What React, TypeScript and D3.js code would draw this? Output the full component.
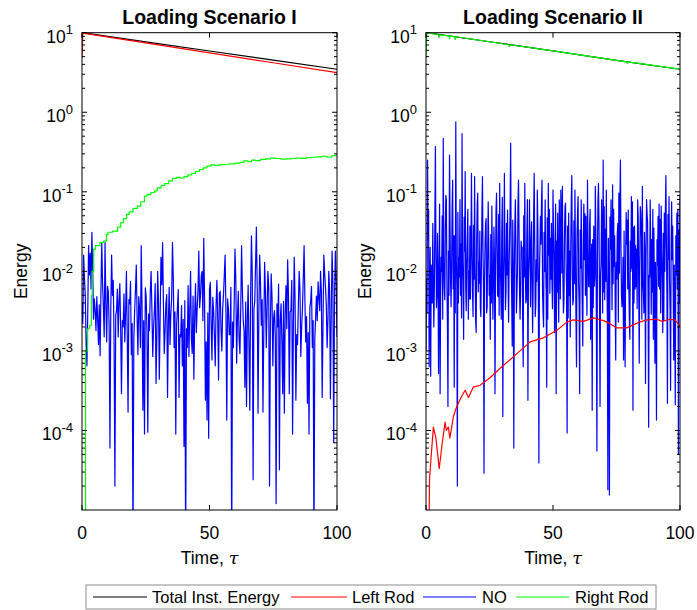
import React from 'react';
import * as d3 from 'd3';

const WIDTH = 697;
const HEIGHT = 610;
const Y_DOMAIN: [number, number] = [1e-5, 10];
const FONT = '"Liberation Sans", Arial, Helvetica, sans-serif';

// ---------- Loading Scenario I ----------
const s1TotalT = [0, 25, 50, 75, 100];
const s1TotalV = [10, 7.68, 5.89, 4.52, 3.47];

const s1LeftT = [0, 0.3, 25, 50, 75, 100];
const s1LeftV = [4.8, 9.9, 7.43, 5.57, 4.19, 3.14];

const s1RightT = [0, 1.3, 1.4, 2.2, 3.0, 3.7, 4.0, 4.6, 5.3, 7.0, 8.5, 9.6, 10.2, 12, 14, 15.2, 16.2, 17.5, 18.5, 20, 21.8, 23, 24.5, 25.5, 27, 28.5, 29.5, 31, 32.5, 34, 35.5, 37, 38.5, 40, 41.5, 43, 44.5, 46, 47.5, 49, 50.5, 52, 54, 56, 58, 60, 62, 63.5, 65, 66.5, 68, 70, 72, 74, 76, 78, 80, 82, 84, 86, 88, 90, 92, 94, 96, 98, 100];
const s1RightV = [5e-7, 5e-7, 1.0e-3, 1.9e-3, 2.1e-3, 5e-3, 1.0e-2, 1.9e-2, 2.1e-2, 2.3e-2, 2.4e-2, 2.9e-2, 3.1e-2, 3.2e-2, 3.6e-2, 4.1e-2, 4.6e-2, 5.2e-2, 5.6e-2, 6.2e-2, 6.6e-2, 7.5e-2, 8.8e-2, 9.2e-2, 9.8e-2, 0.103, 0.112, 0.12, 0.127, 0.137, 0.147, 0.152, 0.149, 0.155, 0.163, 0.17, 0.18, 0.19, 0.2, 0.21, 0.218, 0.215, 0.22, 0.222, 0.225, 0.23, 0.235, 0.245, 0.24, 0.25, 0.247, 0.255, 0.26, 0.265, 0.262, 0.258, 0.26, 0.262, 0.265, 0.263, 0.27, 0.272, 0.275, 0.28, 0.272, 0.285, 0.29];

// NO energy, sampled on a uniform time grid over [0, 100]
const s1NO = [
  4e-3, 2.2e-3, 1.6e-2, 8e-3, 5e-3, 1.2e-3, 6.5e-4, 3e-3, 2.1e-2, 9e-3,
  1.7e-2, 6e-3, 3.1e-2, 1.1e-2, 2.5e-3, 4.5e-3, 3.2e-3, 1.8e-3, 4.8e-3, 2.6e-3,
  1.2e-3, 3.8e-3, 8.7e-4, 5.5e-3, 2.3e-2, 7e-3, 3.6e-3, 1.5e-3, 2.3e-2, 4e-3,
  1.3e-3, 6.5e-3, 5.6e-3, 2e-3, 6e-5, 3.4e-3, 1.6e-2, 5e-3, 7.7e-3, 1.3e-3,
  2e-5, 2.8e-3, 3.2e-3, 6e-3, 1.5e-3, 4.2e-3, 7e-3, 1.9e-3, 2.9e-4, 2.4e-3,
  2.0e-3, 5.2e-3, 1.3e-3, 3e-3, 1.0e-2, 1.6e-3, 1.7e-4, 4.4e-3, 3.9e-3, 7.5e-3,
  9e-4, 2.2e-3, 3e-6, 1.4e-3, 3.2e-3, 5.8e-3, 1.2e-2, 2.6e-3, 9e-4, 4.8e-3,
  3.4e-3, 1.1e-3, 2.1e-2, 3.6e-3, 1.8e-4, 2.4e-3, 9e-5, 6.2e-3, 4.8e-3, 1.7e-3,
  9.5e-5, 2.9e-3, 1.8e-3, 5.4e-3, 1.0e-2, 3.3e-3, 8.5e-4, 2e-3, 3.2e-3, 7e-3,
  3.9e-4, 1.5e-3, 1.0e-2, 4.1e-3, 4.4e-4, 2.7e-3, 1.5e-2, 6.8e-3, 2.3e-2, 3.9e-3,
  9.3e-4, 1.8e-3, 3.9e-3, 5.1e-3, 2.6e-4, 2.3e-3, 6.3e-3, 1.2e-3, 2.9e-3, 4.6e-3,
  2.3e-2, 8.2e-3, 1.1e-3, 3.1e-3, 9e-5, 2.1e-3, 3.4e-3, 5.9e-3, 2.6e-4, 1.6e-3,
  1.5e-3, 3.7e-3, 6.5e-4, 2.5e-3, 6.3e-5, 4.3e-3, 3e-6, 1.9e-3, 1.1e-3, 6.6e-3,
  8.5e-4, 3.2e-3, 1.0e-2, 1.4e-3, 9.3e-4, 4.9e-3, 4.4e-4, 2.8e-3, 7e-3, 1.7e-3,
  3.4e-3, 5.6e-3, 1.8e-2, 3.5e-3, 4.8e-3, 8.8e-3, 1.0e-2, 2.4e-3, 2.6e-2, 4.4e-3,
  2.4e-4, 1.3e-3, 1.35e-4, 3e-3, 8e-5, 6e-3, 7.3e-3, 2.2e-3, 7.7e-4, 4.7e-3,
  3.2e-3, 1.5e-3, 6.5e-4, 3.8e-3, 7.7e-3, 2.6e-3, 4.3e-4, 5.3e-3, 5.6e-3, 1.9e-3,
  1.0e-3, 3.4e-3, 5e-3, 9e-3, 1.6e-2, 2.9e-3, 1.35e-4, 4.5e-3, 3.4e-3, 1.6e-3,
  1.6e-3, 6.3e-3, 3e-6, 2.3e-3, 1.1e-3, 4e-3, 1.9e-2, 7.8e-3, 7e-4, 2.7e-3,
  5.6e-3, 1.4e-3, 9.3e-4, 3.6e-3, 2.1e-2, 5.7e-3, 2.4e-3, 1.8e-3, 3.5e-4, 4.1e-3,
  2e-4, 2.5e-3, 6.7e-3, 1.1e-3, 1.8e-4, 5e-3, 2.8e-2, 8.5e-3, 2.4e-5, 3.3e-3,
  4.2e-3, 1.2e-2, 3.6e-2, 6.1e-3, 1.65e-4, 2.9e-3, 1.6e-2, 7.2e-3, 2.1e-3, 4.4e-3,
  1.7e-4, 1.8e-3, 1.3e-2, 5.5e-3, 1.1e-3, 3.4e-3, 1.0e-2, 6.4e-3, 2e-5, 2.1e-3,
  9.3e-3, 4.8e-3, 6.5e-4, 2.6e-3, 3.2e-3, 1.5e-3, 1.2e-5, 3.9e-3, 2e-3, 6.9e-3,
  3.2e-5, 2.4e-3, 3.9e-3, 1.3e-3, 2.9e-4, 4.2e-3, 1.65e-4, 2.8e-3, 6.6e-3, 1.9e-3,
  1.4e-2, 5.1e-3, 2.9e-4, 3.1e-3, 3.2e-3, 7.7e-3, 9e-5, 2.2e-3, 1.5e-2, 4.6e-3,
  2.4e-4, 1.6e-3, 1.2e-3, 3.7e-3, 1.0e-2, 5.8e-3, 8.5e-4, 2e-3, 3.4e-3, 8.1e-3,
  2.1e-2, 4.3e-3, 1.3e-3, 2.7e-3, 2.2e-4, 1.7e-3, 9e-5, 3.5e-3, 4.2e-3, 6.5e-3,
  1.1e-3, 2.4e-3, 3e-6, 1.4e-3, 2.6e-3, 4.9e-3, 2.4e-3, 7.4e-3, 4.8e-3, 3.2e-3,
  1.0e-2, 5.6e-3, 2.6e-4, 2.3e-3, 1.6e-2, 9.5e-3, 6.3e-3, 3.8e-3, 1.1e-3, 2.5e-3,
  1.0e-2, 6e-3, 2.5e-4, 3e-3, 1.8e-2, 7e-3, 7e-5, 4.4e-3, 1.8e-2, 8e-3,
  1.5e-3,
];

// ---------- Loading Scenario II ----------
const s2TotalT = [0, 25, 50, 75, 100];
const s2TotalV = [10, 7.7, 5.9, 4.5, 3.47];

const s2LeftT = [0, 0.7, 1.4, 2.2, 2.9, 3.9, 5.2, 6.2, 7.5, 8.0, 8.8, 9.4, 10.8, 12, 13.8, 15.4, 16.7, 18.6, 21.3, 25.2, 29.1, 33, 37, 41, 46.2, 51.4, 55.4, 58, 62, 65.9, 69.8, 72, 75, 79, 84, 87, 90.8, 93, 96, 98, 100];
const s2LeftV = [3e-7, 3e-7, 2.5e-5, 5.6e-5, 1.1e-4, 8e-5, 3.3e-5, 6.2e-5, 1.27e-4, 1.0e-4, 1.1e-4, 8e-5, 1.5e-4, 1.96e-4, 2.6e-4, 3.2e-4, 2.6e-4, 3.5e-4, 3.7e-4, 4.6e-4, 6e-4, 7.7e-4, 1.0e-3, 1.3e-3, 1.46e-3, 1.8e-3, 2.3e-3, 2.45e-3, 2.35e-3, 2.6e-3, 2.4e-3, 2.25e-3, 1.95e-3, 1.95e-3, 2.3e-3, 2.45e-3, 2.5e-3, 2.35e-3, 2.5e-3, 2.45e-3, 2.05e-3];

const s2NO = [
  1e-3, 8e-3, 3e-3, 0.25, 2.5e-2, 0.06, 6.3e-4, 5e-3, 2e-2, 4.8e-4, 1.2e-2, 4e-3,
  4e-3, 4e-2, 7e-3, 2e-3, 6e-3, 0.05, 0.37, 2e-2, 3.5e-3, 5e-3, 3e-2, 9e-3,
  5.2e-4, 9e-3, 0.07, 2.9e-4, 4.5e-3, 1.5e-2, 1e-2, 5e-2, 2.5e-3, 0.47, 1.5e-2, 6e-3,
  4.4e-3, 3.5e-2, 0.09, 0.079, 7e-3, 2.2e-3, 2e-4, 1.8e-2, 5e-3, 0.29, 4.2e-2, 8e-3,
  3.6e-3, 1.1e-2, 0.065, 0.14, 6e-3, 2.8e-2, 3.5e-4, 2.8e-2, 3e-3, 0.76, 1.4e-2, 6.5e-3,
  2e-5, 5.5e-2, 4e-3, 0.015, 8.5e-3, 0.08, 5e-3, 2.2e-2, 2.6e-3, 0.54, 1.3e-2, 7e-3,
  1.4e-3, 4.8e-2, 1.8e-2, 0.18, 6.5e-3, 3.2e-3, 0.012, 2.6e-2, 0.06, 2.5e-3, 1e-2, 4.5e-3,
  0.037, 4.5e-3, 2e-2, 0.17, 1.9e-2, 5.5e-3, 2.7e-3, 3.8e-2, 8e-3, 0.155, 9.5e-3, 2.4e-3,
  1.7e-3, 2.4e-2, 0.07, 0.096, 5.5e-3, 1.3e-2, 7.1e-3, 3.2e-2, 3.5e-3, 2.7e-3, 1.2e-2, 0.055,
  0.155, 2e-2, 6e-3, 2.9e-5, 7.5e-3, 2.2e-2, 0.04, 4.6e-2, 3e-3, 3.6e-3, 1.6e-2, 0.075,
  0.025, 5e-3, 9e-3, 1.4e-3, 2.9e-2, 4e-3, 0.066, 1.1e-2, 2.5e-3, 7.1e-3, 3.6e-2, 1.4e-2,
  2.9e-4, 8e-3, 0.06, 0.096, 2.1e-2, 5e-3, 4.8e-3, 5.2e-2, 2.8e-3, 0.128, 1.3e-2, 7e-3,
  2.5e-3, 3e-2, 0.085, 1.5e-4, 6e-3, 1.7e-2, 0.17, 1.7e-2, 3.3e-3, 5.3e-3, 4e-2, 9e-3,
  0.059, 9e-3, 2.3e-3, 0.011, 2.7e-2, 0.065, 0.41, 1.5e-2, 4.5e-3, 1.15e-3, 4.4e-2, 1.2e-2,
  6e-5, 7e-3, 3.8e-2, 0.079, 2.3e-2, 3e-3, 5.3e-3, 1e-2, 0.07, 0.14, 3.4e-2, 5.5e-3,
  2.5e-3, 5.8e-3, 2.4e-2, 0.019, 2e-2, 2.2e-3, 6.3e-4, 5e-2, 8.5e-3, 0.128, 1.2e-2, 4e-3,
  4.4e-3, 2.8e-2, 0.08, 2.4e-4, 8.5e-3, 1.6e-2, 0.079, 1.8e-2, 3.6e-3, 0.022, 4.2e-2, 6.5e-3,
  1.7e-3, 6.5e-3, 0.055, 0.17, 2.5e-2, 2.7e-3, 3.6e-3, 1.4e-2, 7.5e-3, 0.105, 3.9e-2, 4.2e-3,
  3.9e-5, 9e-3, 2e-2, 0.049, 2.2e-2, 0.075, 0.14, 5.5e-3, 3e-3, 2e-3, 3.1e-2, 1e-2,
  0.079, 1.2e-2, 5e-3, 3.5e-4, 4.7e-2, 2.5e-3, 0.128, 1.6e-2, 0.06, 5.3e-3, 2.6e-2, 8e-3,
  0.04, 7.5e-3, 3.4e-3, 0.105, 3.5e-2, 1.5e-2, 1.7e-3, 1.1e-2, 0.07, 2.9e-4, 2.4e-2, 5.5e-3,
  0.054, 6e-3, 2.3e-3, 0.079, 1.9e-2, 4.5e-3, 0.105, 4.5e-2, 9.5e-3, 0.117, 8e-3, 3e-3,
  4.4e-3, 2.9e-2, 0.065, 0.072, 1.3e-2, 6e-3, 9.3e-5, 3.7e-2, 2.6e-3, 0.054, 5e-3, 1.8e-2,
  1.5e-3, 2.1e-2, 0.08, 0.16, 1e-2, 3.8e-3, 4.4e-3, 4.3e-2, 7e-3, 0.105, 1.5e-2, 2.4e-3,
  6.3e-4, 2.7e-2, 0.055, 0.087, 7e-3, 4e-3, 2.9e-4, 3.3e-2, 1.1e-2, 0.079, 1.2e-2, 3.2e-3,
  1.15e-3, 2.3e-2, 0.07, 0.014, 5.3e-2, 5e-3, 0.049, 8.5e-3, 2.8e-3, 0.14, 1.8e-2, 6.5e-3,
  6.4e-3, 3.8e-2, 0.06, 1.4e-3, 1e-2, 2.2e-2, 1.8e-4, 2.5e-2, 3.5e-3, 0.037, 6.5e-3, 8.5e-3,
  0.117, 3e-2, 2.5e-3, 5.5e-5, 1.4e-2, 0.075, 0.128, 4.1e-2, 4.5e-3, 2.0e-4, 9e-3, 1.3e-2,
  0.079, 2e-2, 3e-3, 0.25, 5.5e-3, 0.065, 4.4e-3, 3.4e-2, 7.5e-3, 0.105, 1.1e-2, 2.6e-3,
  1.8e-5, 2.6e-2, 5.5e-3, 1.55e-5, 4.8e-2, 1.9e-2, 0.079, 1.6e-2, 3.3e-3, 0.122, 7e-3, 0.06,
  0.0115, 2.8e-2, 4e-3, 7.7e-4, 1.3e-2, 8e-3, 0.03, 4e-2, 2.3e-3, 0.096, 9.5e-3, 0.07,
  0.25, 2.2e-2, 5e-3, 3.6e-3, 5e-3, 1.5e-2, 7.7e-4, 3.2e-2, 3e-3, 6.3e-4, 1.5e-2, 0.055,
  0.022, 4.4e-2, 6e-3, 0.059, 8e-3, 2.7e-3, 1.4e-3, 2.4e-2, 1e-2, 0.087, 1.1e-2, 0.075,
  1.8e-4, 3.6e-2, 4e-3, 0.037, 6e-3, 2.1e-2, 6.4e-3, 1.9e-2, 3.4e-3, 0.079, 4.6e-2, 7e-3,
  7e-4, 1.2e-2, 0.065, 0.054, 2.7e-2, 2.5e-3, 0.117, 7.5e-3, 5.5e-3, 3e-3, 3.1e-2, 1.6e-2,
  3.9e-4, 1.6e-2, 0.08, 0.054, 4.2e-2, 3.6e-3, 1.1e-4, 9e-3, 8.5e-3, 0.079, 2.1e-2, 2.9e-3,
  0.025, 5.5e-3, 0.06, 1.4e-3, 3.5e-2, 6e-3, 7e-4, 1.3e-2, 4.2e-3, 1.35e-4, 2.5e-2, 1.2e-2,
  0.049, 6.5e-3, 0.07, 6e-3, 4.5e-2, 3e-3, 0.066, 1.7e-2, 7.5e-3, 1.7e-3, 3e-2, 2.4e-3,
  0.054, 1e-2, 0.055, 0.16, 2.3e-2, 5e-3, 2.2e-4, 5.2e-2, 1.4e-2, 0.087, 8e-3, 3.2e-3,
  3.2e-4, 2e-2, 0.075, 0.014, 3.7e-2, 6.5e-3, 7.7e-4, 1.2e-2, 2.6e-3, 2.1e-4, 2.8e-2, 9e-3,
  0.054, 6e-3, 0.06, 5e-5, 3.3e-2, 4e-3, 0.09,
];

const s2RightT = [0, 0.3, 4.8, 5.1, 5.4, 9.0, 9.3, 9.6, 11.2, 11.5, 11.8, 25, 32.5, 32.8, 33.1, 50, 75, 79, 79.3, 79.6, 100];
const s2RightV = [4.8, 9.95, 9.5, 8.7, 9.4, 9.1, 8.5, 9.1, 8.9, 8.2, 8.9, 7.7, 7.05, 6.7, 7.05, 5.9, 4.5, 4.3, 4.1, 4.3, 3.48];

const SERIES_NAMES = ['Total Inst. Energy', 'Left Rod', 'NO', 'Right Rod'];
const SERIES_COLORS = ['#000000', '#ff0000', '#0000ff', '#00ff00'];

type Pt = [number, number];
const zip = (t: number[], v: number[]): Pt[] => t.map((x, i) => [x, v[i]]);
const uniform = (v: number[]): Pt[] => v.map((y, i) => [(i * 100) / (v.length - 1), y]);

interface Line {
  pts: Pt[];
  color: string;
  width: number;
  step?: boolean;
}

interface PanelProps {
  id: string;
  left: number;
  right: number;
  top: number;
  bottom: number;
  title: string;
  lines: Line[];
}

function Panel({ id, left, right, top, bottom, title, lines }: PanelProps) {
  const x = d3.scaleLinear().domain([0, 100]).range([left, right]);
  const y = d3.scaleLog().domain(Y_DOMAIN).range([bottom, top]);

  const majors = [-4, -3, -2, -1, 0, 1];
  const minors: number[] = [];
  for (let e = -5; e <= 0; e++) {
    for (let k = 2; k <= 9; k++) {
      const v = k * Math.pow(10, e);
      if (v > Y_DOMAIN[0] && v < Y_DOMAIN[1]) minors.push(v);
    }
  }
  const xTicks = [0, 50, 100];

  const clamp = (v: number) => Math.max(v, 1e-9);

  return (
    <g>
      <defs>
        <clipPath id={`clip-${id}`}>
          <rect x={left} y={top} width={right - left} height={bottom - top} />
        </clipPath>
      </defs>
      <g clipPath={`url(#clip-${id})`}>
        {lines.map((ln, i) => {
          const gen = d3
            .line<Pt>()
            .x((d) => x(d[0]))
            .y((d) => y(clamp(d[1])))
            .curve(ln.step ? d3.curveStepAfter : d3.curveLinear);
          return (
            <path
              key={i}
              d={gen(ln.pts) || ''}
              fill="none"
              stroke={ln.color}
              strokeWidth={ln.width}
              strokeLinejoin="round"
            />
          );
        })}
      </g>

      {/* axis box */}
      <rect x={left} y={top} width={right - left} height={bottom - top} fill="none" stroke="#000" strokeWidth={1} />

      {/* y ticks */}
      {majors.map((e) => {
        const yy = y(Math.pow(10, e));
        return (
          <g key={`M${e}`}>
            <line x1={left} x2={left + 5} y1={yy} y2={yy} stroke="#000" />
            <line x1={right} x2={right - 5} y1={yy} y2={yy} stroke="#000" />
            <text
              x={left - 9}
              y={yy + 10}
              textAnchor="end"
              fontFamily={FONT}
              fontSize={17.5}
              fill="#000"
            >
              10
              <tspan dy={-8.5} fontSize={13}>
                {String(e)}
              </tspan>
            </text>
          </g>
        );
      })}
      {minors.map((v, i) => {
        const yy = y(v);
        return (
          <g key={`m${i}`}>
            <line x1={left} x2={left + 3} y1={yy} y2={yy} stroke="#000" />
            <line x1={right} x2={right - 3} y1={yy} y2={yy} stroke="#000" />
          </g>
        );
      })}

      {/* x ticks */}
      {xTicks.map((t) => {
        const xx = x(t);
        return (
          <g key={`x${t}`}>
            <line x1={xx} x2={xx} y1={bottom} y2={bottom - 5} stroke="#000" />
            <line x1={xx} x2={xx} y1={top} y2={top + 5} stroke="#000" />
            <text x={xx} y={bottom + 29} textAnchor="middle" fontFamily={FONT} fontSize={17.5} fill="#000">
              {t}
            </text>
          </g>
        );
      })}

      {/* labels */}
      <text
        x={(left + right) / 2}
        y={bottom + 54}
        textAnchor="middle"
        fontFamily={FONT}
        fontSize={17.5}
        fill="#000"
      >
        Time,{' '}
        <tspan fontStyle="italic" fontFamily='"DejaVu Serif", serif'>
          τ
        </tspan>
      </text>
      <text
        transform={`translate(${left - 55},${(top + bottom) / 2}) rotate(-90)`}
        textAnchor="middle"
        fontFamily={FONT}
        fontSize={17.5}
        fill="#000"
      >
        Energy
      </text>
      <text
        x={(left + right) / 2}
        y={top - 9}
        textAnchor="middle"
        fontFamily={FONT}
        fontSize={19.5}
        fontWeight="bold"
        fill="#000"
      >
        {title}
      </text>
    </g>
  );
}

function Legend() {
  const top = 585;
  const h = 24;
  const items = [
    { x1: 93, x2: 147, tx: 152 },
    { x1: 291, x2: 347, tx: 352 },
    { x1: 423, x2: 476, tx: 482 },
    { x1: 516, x2: 569, tx: 575 },
  ];
  return (
    <g>
      <rect x={86} y={top} width={570} height={h} fill="#fff" stroke="#8c8c8c" strokeWidth={1} />
      {items.map((it, i) => (
        <g key={i}>
          <line x1={it.x1} x2={it.x2} y1={top + h / 2} y2={top + h / 2} stroke={SERIES_COLORS[i]} strokeWidth={1} />
          <text x={it.tx} y={top + h / 2 + 6} fontFamily={FONT} fontSize={16.5} fill="#000">
            {SERIES_NAMES[i]}
          </text>
        </g>
      ))}
    </g>
  );
}

export default function App() {
  const top = 32.7;
  const bottom = 510;
  const panel1: Line[] = [
    { pts: zip(s1TotalT, s1TotalV), color: SERIES_COLORS[0], width: 1.2 },
    { pts: zip(s1LeftT, s1LeftV), color: SERIES_COLORS[1], width: 1.2 },
    { pts: uniform(s1NO), color: SERIES_COLORS[2], width: 1.2 },
    { pts: zip(s1RightT, s1RightV), color: SERIES_COLORS[3], width: 1.2, step: true },
  ];
  const panel2: Line[] = [
    { pts: zip(s2TotalT, s2TotalV), color: SERIES_COLORS[0], width: 1.2 },
    { pts: uniform(s2NO), color: SERIES_COLORS[2], width: 1.2 },
    { pts: zip(s2LeftT, s2LeftV), color: SERIES_COLORS[1], width: 1.2 },
    { pts: zip(s2RightT, s2RightV), color: SERIES_COLORS[3], width: 1.2 },
  ];
  return (
    <svg
      width={WIDTH}
      height={HEIGHT}
      viewBox={`0 0 ${WIDTH} ${HEIGHT}`}
      style={{ position: 'absolute', left: 0, top: 0, background: '#fff' }}
    >
      <rect x={0} y={0} width={WIDTH} height={HEIGHT} fill="#fff" />
      <Panel id="p1" left={82} right={337} top={top} bottom={bottom} title="Loading Scenario I" lines={panel1} />
      <Panel id="p2" left={426} right={680} top={top} bottom={bottom} title="Loading Scenario II" lines={panel2} />
      <Legend />
    </svg>
  );
}
